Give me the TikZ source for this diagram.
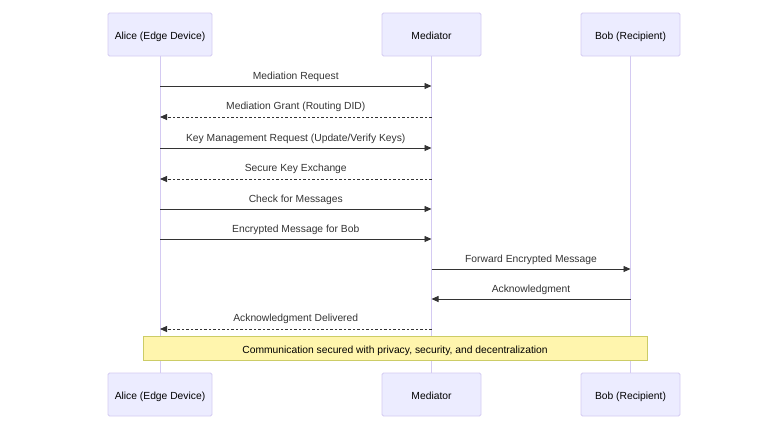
\documentclass[tikz,border=0pt]{standalone}
\usepackage{fontspec}
\setmainfont{Liberation Sans}
\usetikzlibrary{arrows.meta}
\definecolor{actfill}{HTML}{ECECFF}
\definecolor{actline}{HTML}{D4CAF2}
\definecolor{sig}{HTML}{333333}
\definecolor{notefill}{HTML}{FFF5AD}
\definecolor{noteline}{HTML}{CCCC66}
\begin{document}
\begin{tikzpicture}[x=1pt,y=-1pt,
  actor/.style={draw=actline,fill=actfill,rounded corners=1.5pt,line width=0.8pt,minimum height=43pt,inner sep=0pt,text height=9.5pt,text depth=0pt,font=\fontsize{10.3}{12}\selectfont,text=black},
  life/.style={draw=actline,line width=0.9pt},
  msg/.style={draw=sig,line width=0.8pt,-{Triangle[length=7pt,width=6pt]}},
  rmsg/.style={msg,dash pattern=on 2.5pt off 2pt},
  lbl/.style={font=\fontsize{10.3}{12}\selectfont,text=sig,inner sep=0pt},
  note/.style={draw=noteline,fill=notefill,line width=0.8pt,minimum width=504pt,minimum height=24pt,inner sep=0pt,text height=10.5pt,text depth=0pt,font=\fontsize{10.3}{12}\selectfont,text=black}]
\useasboundingbox (0,0) rectangle (784,429);
% top actors
\node[actor,minimum width=104pt] (a1) at (160,34.5) {Alice (Edge Device)};
\node[actor,minimum width=99pt] (m1) at (431.5,34.5) {Mediator};
\node[actor,minimum width=99pt] (b1) at (630.5,34.5) {Bob (Recipient)};
% bottom actors
\node[actor,minimum width=104pt] (a2) at (160,394.5) {Alice (Edge Device)};
\node[actor,minimum width=99pt] (m2) at (431.5,394.5) {Mediator};
\node[actor,minimum width=99pt] (b2) at (630.5,394.5) {Bob (Recipient)};
% lifelines
\draw[life] (a1.south) -- (a2.north);
\draw[life] (m1.south) -- (m2.north);
\draw[life] (b1.south) -- (b2.north);
% message anchor coordinates
\foreach \n/\y in {1/86,2/117,3/148,4/179,5/209,6/239,7/269,8/299,9/329}{
  \coordinate (A\n) at (160,\y);
  \coordinate (M\n) at (431.5,\y);
  \coordinate (B\n) at (630.5,\y);
}
\draw[msg] (A1) -- node[lbl,above=4pt] {Mediation Request} (M1);
\draw[rmsg] (M2) -- node[lbl,above=5pt] {Mediation Grant (Routing DID)} (A2);
\draw[msg] (A3) -- node[lbl,above=4pt] {Key Management Request (Update/Verify Keys)} (M3);
\draw[rmsg] (M4) -- node[lbl,above=5pt] {Secure Key Exchange} (A4);
\draw[msg] (A5) -- node[lbl,above=4pt] {Check for Messages} (M5);
\draw[msg] (A6) -- node[lbl,above=4pt] {Encrypted Message for Bob} (M6);
\draw[msg] (M7) -- node[lbl,above=4pt] {Forward Encrypted Message} (B7);
\draw[msg] (B8) -- node[lbl,above=4pt] {Acknowledgment} (M8);
\draw[rmsg] (M9) -- node[lbl,above=5pt] {Acknowledgment Delivered} (A9);
% note
\node[note] (n) at (395,348) {Communication secured with privacy, security, and decentralization};
\end{tikzpicture}
\end{document}
